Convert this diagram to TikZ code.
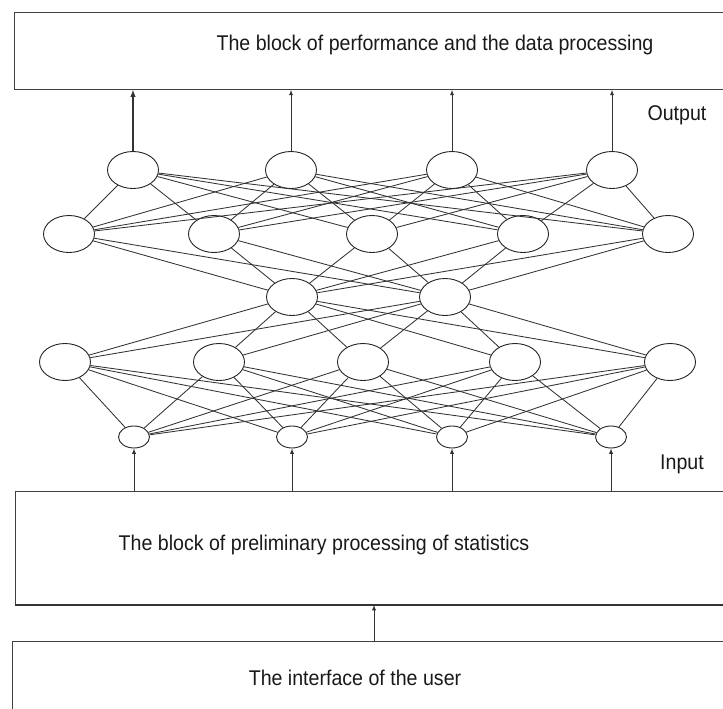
\documentclass[tikz,border=0pt]{standalone}
\usepackage{fontspec}
\setmainfont{Liberation Sans}[FakeStretch=0.92]
\usetikzlibrary{shapes.geometric}

\tikzset{
  neuron/.style={ellipse, draw=black!85, line width=0.9pt, fill=white, inner sep=0pt, minimum width=51pt, minimum height=37pt},
  inneuron/.style={neuron, minimum width=31pt, minimum height=22pt},
  block/.style={rectangle, draw=black!75, line width=0.9pt, inner sep=0pt, anchor=north west},
  link/.style={black!80, line width=0.85pt},
  blocktext/.style={font=\fontsize{21.3}{25}\selectfont, text=black!90},
}

\begin{document}
\begin{tikzpicture}[x=1pt,y=1pt,yscale=-1,xscale=1]

\useasboundingbox (0,0) rectangle (723,709);
\clip (0,0) rectangle (723,709);

%%%%%%%%%%%%%%%%%%%%%%%%%%%%%%%%%%%%%%%%%%%%%%%%%%%%%%%%%%%%%%%%%%%%%%%%

\node (perf) [block, minimum width=726pt, minimum height=77pt] at (14, 12) {};
\node (perftext) [blocktext] at (435, 45) {The block of performance and the data processing};
\node (outlabel) [blocktext] at (677, 115) {Output};

%%%%%%%%%%%%%%%%%%%%%%%%%%%%%%%%%%%%%%%%%%%%%%%%%%%%%%%%%%%%%%%%%%%%%%%%

\node (out1) [neuron] at (133, 170) {};
\node (out2) [neuron] at (291, 170) {};
\node (out3) [neuron] at (452, 170) {};
\node (out4) [neuron] at (612, 170) {};

\node (hid1) [neuron] at (69, 234) {};
\node (hid2) [neuron] at (214, 234) {};
\node (hid3) [neuron] at (372, 234) {};
\node (hid4) [neuron] at (523, 234) {};
\node (hid5) [neuron] at (668, 234) {};

\node (mid1) [neuron] at (292, 297) {};
\node (mid2) [neuron] at (445, 297) {};

\node (low1) [neuron] at (65, 362) {};
\node (low2) [neuron] at (219, 362) {};
\node (low3) [neuron] at (363, 362) {};
\node (low4) [neuron] at (515, 362) {};
\node (low5) [neuron] at (670, 362) {};

\node (in1) [inneuron] at (134, 437) {};
\node (in2) [inneuron] at (292, 437) {};
\node (in3) [inneuron] at (452, 437) {};
\node (in4) [inneuron] at (611, 437) {};

\foreach \a in {1,...,4} \foreach \b in {1,...,5} \draw [link] (out\a) -- (hid\b);
\foreach \a in {1,...,5} \foreach \b in {1,2} \draw [link] (hid\a) -- (mid\b);
\foreach \a in {1,2} \foreach \b in {1,...,5} \draw [link] (mid\a) -- (low\b);
\foreach \a in {1,...,5} \foreach \b in {1,...,4} \draw [link] (low\a) -- (in\b);

\draw [link, ->, >=latex, line width=1.4pt] (out1) -- (out1 |- perf.south);
\foreach \a in {2,3,4} \draw [link, ->, >=latex] (out\a) -- (out\a |- perf.south);

%%%%%%%%%%%%%%%%%%%%%%%%%%%%%%%%%%%%%%%%%%%%%%%%%%%%%%%%%%%%%%%%%%%%%%%%

\node (prep) [block, minimum width=720pt, minimum height=113pt] at (15, 491) {};
\draw [black!80, line width=1.8pt] (prep.south west) -- (prep.south east);
\node (preptext) [blocktext] at (324, 545) {The block of preliminary processing of statistics};
\node (inlabel) [blocktext] at (682, 464) {Input};

\foreach \a in {1,...,4} \draw [link, ->, >=latex] (in\a |- prep.north) -- (in\a);

%%%%%%%%%%%%%%%%%%%%%%%%%%%%%%%%%%%%%%%%%%%%%%%%%%%%%%%%%%%%%%%%%%%%%%%%

\node (user) [block, minimum width=720pt, minimum height=100pt] at (12, 641) {};
\node (usertext) [blocktext] at (355, 678) {The interface of the user};

\coordinate (userin) at (374, 641);
\draw [link, ->, >=latex] (userin) -- (userin |- prep.south);

%%%%%%%%%%%%%%%%%%%%%%%%%%%%%%%%%%%%%%%%%%%%%%%%%%%%%%%%%%%%%%%%%%%%%%%%

\end{tikzpicture}
\end{document}
